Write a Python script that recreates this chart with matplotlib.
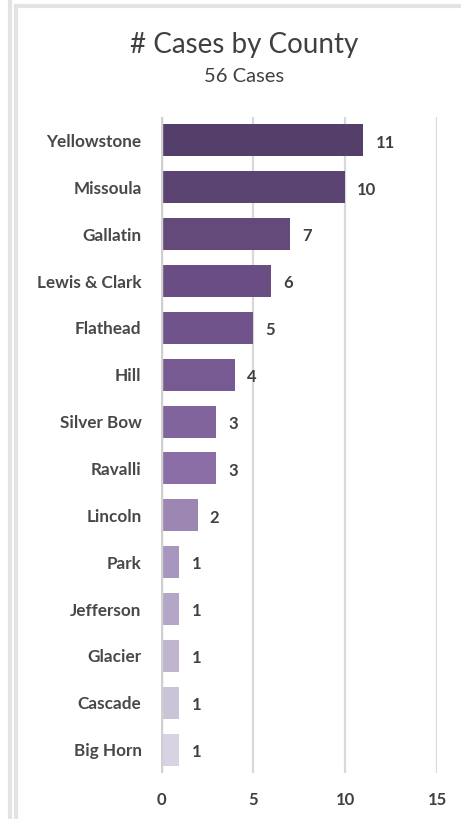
import matplotlib
matplotlib.use("Agg")
import matplotlib.pyplot as plt
from matplotlib.lines import Line2D

counties = ["Yellowstone", "Missoula", "Gallatin", "Lewis & Clark", "Flathead", "Hill",
            "Silver Bow", "Ravalli", "Lincoln", "Park", "Jefferson", "Glacier", "Cascade", "Big Horn"]
cases = [11, 10, 7, 6, 5, 4, 3, 3, 2, 1, 1, 1, 1, 1]
colors = ["#533f69", "#5b4472", "#644a7b", "#6a4e83", "#6f538a", "#785a93", "#82649d",
          "#8a6ea5", "#9c86b2", "#a796bd", "#b3a6c6", "#bfb5cf", "#cbc3d8", "#d8d2e2"]
xticks = [0, 5, 10, 15]
title = "# Cases by County"
subtitle = "56 Cases"

plt.rcParams['font.family'] = ['Lato', 'DejaVu Sans']

fig = plt.figure(figsize=(4.61, 8.19), dpi=100)
W, H = 461, 819
ax = fig.add_axes([161 / W, 1 - 773 / H, (437 - 161) / W, (773 - 117) / H])

y = list(range(len(counties)))
ax.barh(y, cases, height=0.68, color=colors, zorder=3)
ax.set_ylim(len(counties) - 0.5, -0.5)
ax.set_xlim(0, 15)
ax.set_xticks(xticks)
ax.set_xticklabels([str(t) for t in xticks], fontsize=12, color="#404040", fontweight="bold")
ax.set_yticks(y)
ax.set_yticklabels(counties, fontsize=12.3, color="#484848", fontweight="bold")
ax.tick_params(length=0, axis="both")
ax.tick_params(axis="y", pad=14)
ax.tick_params(axis="x", pad=14)
ax.grid(axis="x", color="#d9d9d9", linewidth=1.6, zorder=0)
for s in ax.spines.values():
    s.set_visible(False)
ax.axvline(0, color="#d0d0d0", linewidth=2.5, zorder=4)

for yi, v in zip(y, cases):
    ax.text(v + 0.65, yi + 0.05, str(v), va="center", ha="left", fontsize=12,
            color="#404040", fontweight="bold", zorder=5)

fig.text(244 / W, 1 - 45 / H, title, ha="center", va="center", fontsize=20, color="#404040")
fig.text(244 / W, 1 - 77 / H, subtitle, ha="center", va="center", fontsize=14.5, color="#404040")

# panel borders
fig.add_artist(Line2D([10 / W, 10 / W], [0, 1], transform=fig.transFigure, color="#e3e3e3", linewidth=3))
fig.add_artist(Line2D([16 / W, 16 / W], [0, 1 - 6 / H], transform=fig.transFigure, color="#e3e3e3", linewidth=3))
fig.add_artist(Line2D([16 / W, 1], [1 - 6 / H, 1 - 6 / H], transform=fig.transFigure, color="#e3e3e3", linewidth=3))

fig.savefig("out.png", dpi=100, facecolor="white")
